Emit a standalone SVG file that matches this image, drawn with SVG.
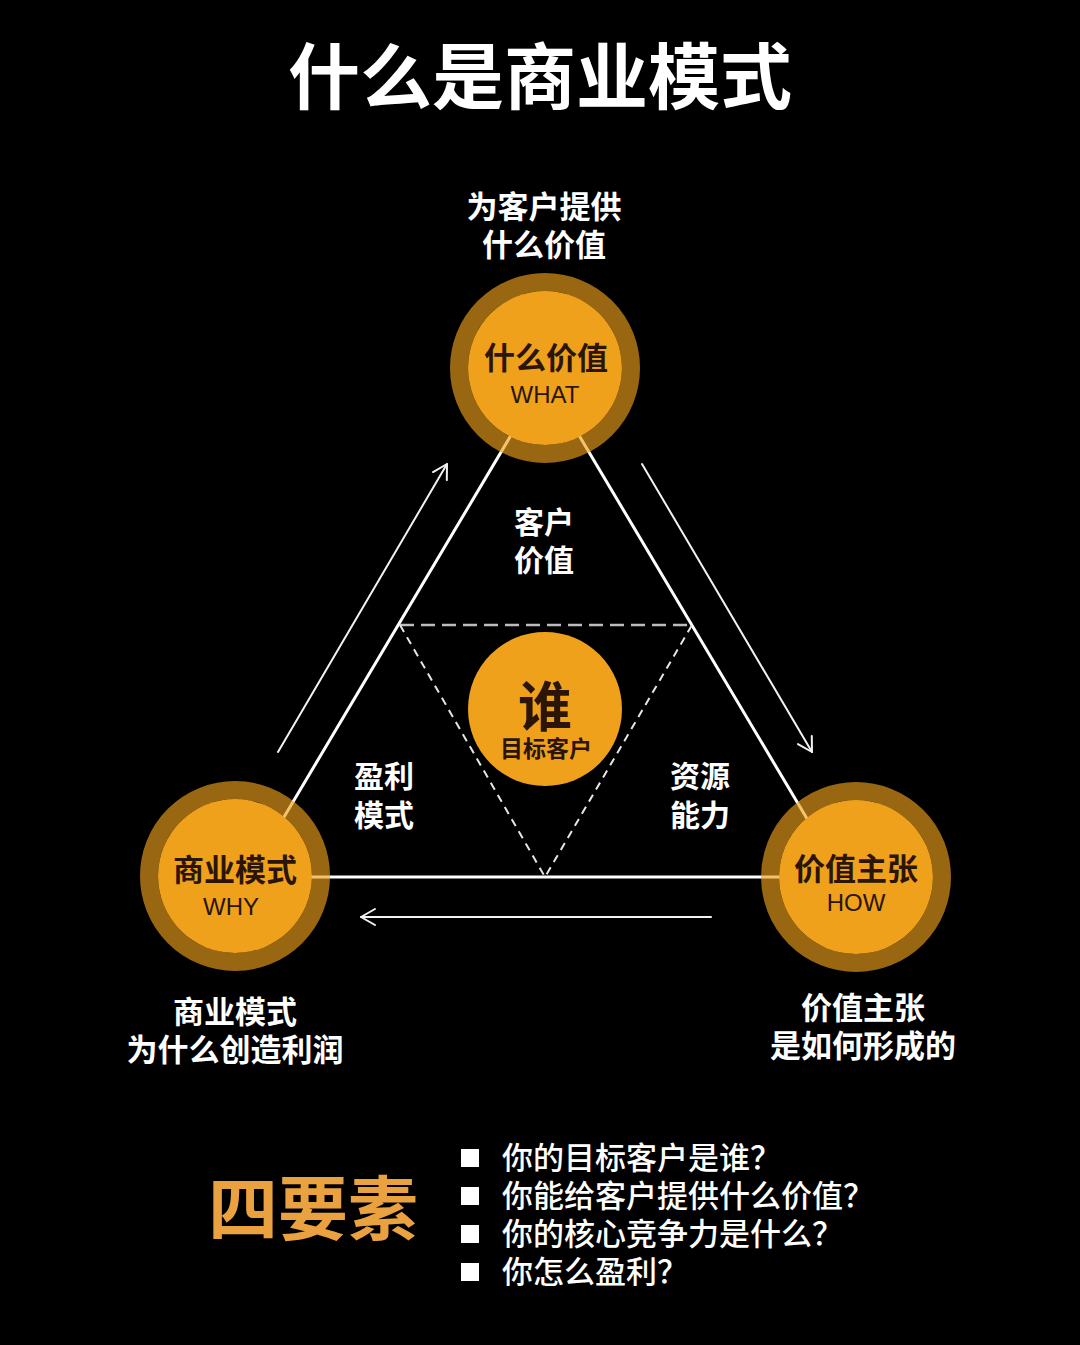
<svg xmlns="http://www.w3.org/2000/svg" width="1080" height="1345" viewBox="0 0 1080 1345">
<defs>
<style>
.cjk{font-family:"Noto Sans CJK SC","Noto Sans",sans-serif;}
.w{fill:#ffffff;font-weight:700;}
.dk{fill:#2a1508;font-weight:700;}
.en{font-family:"Liberation Sans",Arial,sans-serif;fill:#2a1508;font-size:24px;}
.ring{fill:none;stroke:#f0a01c;stroke-opacity:0.64;stroke-width:18;}
.core{fill:#f0a11c;}
.ln{stroke:#ffffff;stroke-width:3;fill:none;stroke-linecap:round;}
.ar{stroke:#f2f2f2;stroke-width:2;fill:none;stroke-linecap:round;}
</style>
<marker id="ah" viewBox="0 0 20 20" refX="18" refY="10" markerWidth="20" markerHeight="20" markerUnits="userSpaceOnUse" orient="auto">
<path d="M4,2 L18,10 L4,18" fill="none" stroke="#f2f2f2" stroke-width="2" stroke-linecap="round" stroke-linejoin="round"/>
</marker>
</defs>
<rect width="1080" height="1345" fill="#000000"/>

<text class="cjk w" x="540" y="103" font-size="72" text-anchor="middle">什么是商业模式</text>

<g id="connectors">
<line class="ln" x1="535" y1="395" x2="262" y2="854"/>
<line class="ln" x1="555" y1="395" x2="828" y2="854"/>
<line class="ln" x1="260" y1="877" x2="830" y2="877"/>
<polyline points="400,625 692,625" fill="none" stroke="#bdbdbd" stroke-width="2.5" stroke-dasharray="14,7"/>
<polyline points="400,625 545,877 692,625" fill="none" stroke="#e6e6e6" stroke-width="2" stroke-dasharray="8,6"/>
<line class="ar" x1="278" y1="752" x2="447" y2="464" marker-end="url(#ah)"/>
<line class="ar" x1="642" y1="464" x2="812" y2="752" marker-end="url(#ah)"/>
<line class="ar" x1="711" y1="917" x2="361" y2="917" marker-end="url(#ah)"/>
</g>

<g id="node-what">
<circle class="ring" cx="545" cy="368" r="86"/>
<circle class="core" cx="545" cy="368" r="77"/>
<text class="cjk dk" x="546" y="369" font-size="31" text-anchor="middle">什么价值</text>
<text class="en" x="545" y="403" text-anchor="middle">WHAT</text>
</g>

<g id="node-why">
<circle class="ring" cx="235" cy="876" r="86"/>
<circle class="core" cx="235" cy="876" r="77"/>
<text class="cjk dk" x="235" y="881" font-size="31" text-anchor="middle">商业模式</text>
<text class="en" x="231" y="915" text-anchor="middle">WHY</text>
</g>

<g id="node-how">
<circle class="ring" cx="856" cy="877" r="86"/>
<circle class="core" cx="856" cy="877" r="77"/>
<text class="cjk dk" x="856" y="880" font-size="31" text-anchor="middle">价值主张</text>
<text class="en" x="856" y="911" text-anchor="middle">HOW</text>
</g>

<g id="node-who">
<circle class="core" cx="545" cy="709" r="77"/>
<text class="cjk dk" x="545" y="727" font-size="54" text-anchor="middle">谁</text>
<text class="cjk dk" x="546" y="757" font-size="23" text-anchor="middle">目标客户</text>
</g>

<g id="labels">
<text class="cjk w" x="544" y="218" font-size="31" text-anchor="middle">为客户提供</text>
<text class="cjk w" x="544" y="256" font-size="31" text-anchor="middle">什么价值</text>
<text class="cjk w" x="544" y="533" font-size="30" text-anchor="middle">客户</text>
<text class="cjk w" x="544" y="571" font-size="30" text-anchor="middle">价值</text>
<text class="cjk w" x="384" y="787" font-size="30" text-anchor="middle">盈利</text>
<text class="cjk w" x="384" y="826" font-size="30" text-anchor="middle">模式</text>
<text class="cjk w" x="700" y="787" font-size="30" text-anchor="middle">资源</text>
<text class="cjk w" x="700" y="826" font-size="30" text-anchor="middle">能力</text>
<text class="cjk w" x="235" y="1023" font-size="31" text-anchor="middle">商业模式</text>
<text class="cjk w" x="235" y="1061" font-size="31" text-anchor="middle">为什么创造利润</text>
<text class="cjk w" x="863" y="1019" font-size="31" text-anchor="middle">价值主张</text>
<text class="cjk w" x="863" y="1057" font-size="31" text-anchor="middle">是如何形成的</text>
</g>

<g id="four-elements">
<text class="cjk" x="313" y="1235" font-size="70" font-weight="700" fill="#e9a23f" text-anchor="middle">四要素</text>
<rect x="461" y="1149" width="18" height="18" fill="#ffffff"/>
<rect x="461" y="1187" width="18" height="18" fill="#ffffff"/>
<rect x="461" y="1225" width="18" height="18" fill="#ffffff"/>
<rect x="461" y="1263" width="18" height="18" fill="#ffffff"/>
<text class="cjk" x="502" y="1169" font-size="31" font-weight="500" fill="#ffffff">你的目标客户是谁？</text>
<text class="cjk" x="502" y="1207" font-size="31" font-weight="500" fill="#ffffff">你能给客户提供什么价值？</text>
<text class="cjk" x="502" y="1245" font-size="31" font-weight="500" fill="#ffffff">你的核心竞争力是什么？</text>
<text class="cjk" x="502" y="1283" font-size="31" font-weight="500" fill="#ffffff">你怎么盈利？</text>
</g>
</svg>
